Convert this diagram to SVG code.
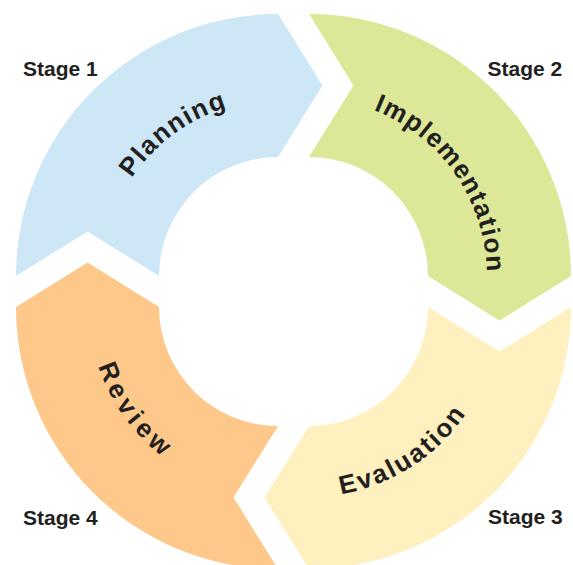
<svg xmlns="http://www.w3.org/2000/svg" xmlns:xlink="http://www.w3.org/1999/xlink" width="573" height="565" viewBox="0 0 573 565">
  <style>
    .seg-label { font-family: "Liberation Sans", Arial, sans-serif; font-weight: bold; font-size: 26px; fill: #231f20; }
    .stage { font-family: "Liberation Sans", Arial, sans-serif; font-weight: bold; font-size: 21px; fill: #231f20; }
  </style>
  <defs>
    <path id="arc-planning" d="M 109.2 325.7 A 176 176 0 0 1 375.4 129.4" fill="none"/>
    <path id="arc-implementation" d="M 263.2 104 A 178 178 0 0 1 454.6 378.4" fill="none"/>
    <path id="arc-evaluation" d="M 194.7 458.7 A 190 190 0 0 0 494.1 264.3" fill="none"/>
    <path id="arc-review" d="M 121.5 201 A 189 189 0 0 0 329.8 488.8" fill="none"/>
  </defs>
  <rect width="573" height="565" fill="#ffffff"/>

  <g id="planning">
    <path d="M 16 276 A 262 262 0 0 1 278 14 L 322.5 85.5 L 278 157 A 119 119 0 0 0 159 276 L 87.5 231.5 Z" fill="#cde7f7"/>
    <text class="seg-label" letter-spacing="1.5"><textPath xlink:href="#arc-planning" href="#arc-planning" startOffset="50%" text-anchor="middle">Planning</textPath></text>
  </g>

  <g id="implementation">
    <path d="M 309 14 A 262 262 0 0 1 571 276 L 499.5 320.5 L 428 276 A 119 119 0 0 0 309 157 L 353.5 85.5 Z" fill="#dce797"/>
    <text class="seg-label" letter-spacing="1.3"><textPath xlink:href="#arc-implementation" href="#arc-implementation" startOffset="50%" text-anchor="middle">Implementation</textPath></text>
  </g>

  <g id="evaluation">
    <path d="M 571 307 A 262 262 0 0 1 309 569 L 264.5 497.5 L 309 426 A 119 119 0 0 0 428 307 L 499.5 351.5 Z" fill="#fef0bf"/>
    <text class="seg-label" letter-spacing="2.3"><textPath xlink:href="#arc-evaluation" href="#arc-evaluation" startOffset="50%" text-anchor="middle">Evaluation</textPath></text>
  </g>

  <g id="review">
    <path d="M 278 569 A 262 262 0 0 1 16 307 L 87.5 262.5 L 159 307 A 119 119 0 0 0 278 426 L 233.5 497.5 Z" fill="#fdc88a"/>
    <text class="seg-label" letter-spacing="4.5"><textPath xlink:href="#arc-review" href="#arc-review" startOffset="50%" text-anchor="middle">Review</textPath></text>
  </g>

  <g id="stage-labels">
    <text id="stage1" class="stage" x="23" y="75.5">Stage 1</text>
    <text id="stage2" class="stage" x="487.5" y="75.5">Stage 2</text>
    <text id="stage3" class="stage" x="488" y="523.5">Stage 3</text>
    <text id="stage4" class="stage" x="23" y="524.5">Stage 4</text>
  </g>

  <g id="connectors"></g>
</svg>
